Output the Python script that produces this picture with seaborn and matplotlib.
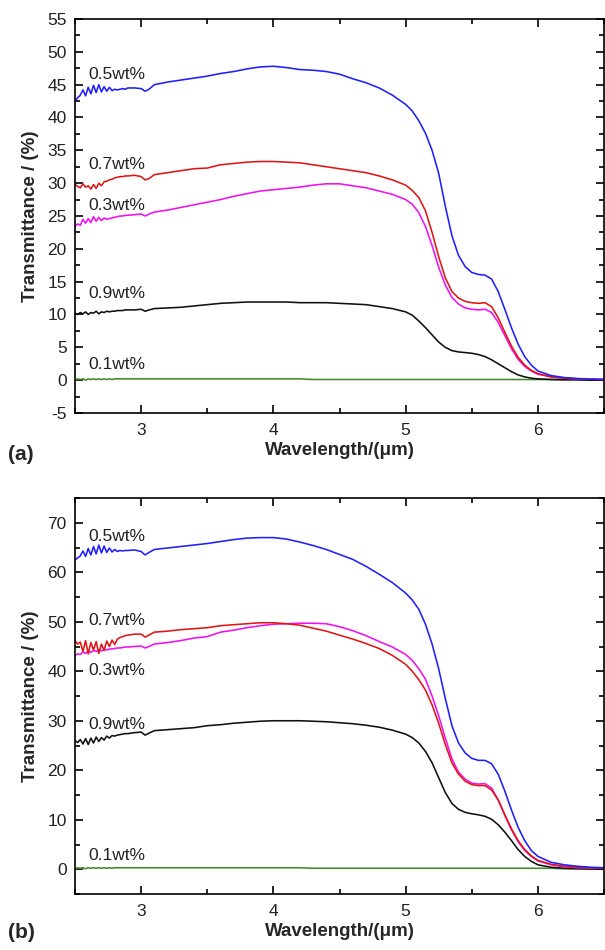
import matplotlib
matplotlib.use("Agg")
import matplotlib.pyplot as plt
from matplotlib.ticker import MultipleLocator
import seaborn as sns
import pandas as pd

# ---------------- data ----------------
wavelength = [2.50, 2.52, 2.54, 2.56, 2.58, 2.60, 2.62, 2.64, 2.66, 2.68, 2.70,
              2.72, 2.74, 2.76, 2.78, 2.80, 2.82, 2.84, 2.86, 2.88, 2.90,
              2.95, 3.00, 3.03, 3.06, 3.10,
              3.2, 3.3, 3.4, 3.5, 3.6, 3.7, 3.8, 3.9, 4.0, 4.1, 4.2, 4.3, 4.4,
              4.5, 4.6, 4.7, 4.8, 4.9,
              5.00, 5.05, 5.10, 5.15, 5.20, 5.25, 5.30, 5.35, 5.40, 5.45, 5.50,
              5.55, 5.60, 5.65, 5.70, 5.75, 5.80, 5.85, 5.90, 5.95, 6.00,
              6.1, 6.2, 6.3, 6.4, 6.5]

concentrations = ["0.1wt%", "0.9wt%", "0.3wt%", "0.7wt%", "0.5wt%"]

# panel (a)
a_05 = [42.5, 43.0, 43.4, 44.2, 43.3, 44.6, 43.6, 44.9, 43.8, 45.0, 43.9,
        44.7, 44.0, 44.6, 44.1, 44.3, 44.2, 44.3, 44.4, 44.3, 44.5,
        44.5, 44.4, 44.0, 44.3, 45.0,
        45.4, 45.7, 46.0, 46.3, 46.7, 47.0, 47.4, 47.7, 47.8, 47.6, 47.3, 47.2, 47.0,
        46.6, 45.9, 45.3, 44.5, 43.4,
        42.0, 41.0, 39.5, 37.6, 35.0, 31.5, 26.5, 22.0, 19.0, 17.3, 16.4,
        16.1, 16.0, 15.4, 13.5, 10.8, 8.0, 5.5, 3.6, 2.3, 1.4,
        0.7, 0.4, 0.25, 0.15, 0.1]
a_07 = [29.8, 29.5, 29.3, 29.9, 29.4, 29.6, 29.1, 29.8, 29.2, 30.0, 29.6,
        30.2, 30.3, 30.5, 30.6, 30.8, 30.9, 31.0, 31.0, 31.1, 31.1,
        31.2, 31.0, 30.5, 30.7, 31.3,
        31.6, 31.9, 32.2, 32.3, 32.8, 33.0, 33.2, 33.3, 33.3, 33.2, 33.1, 32.8, 32.5,
        32.2, 31.9, 31.6, 31.1, 30.5,
        29.7, 28.9, 27.8, 25.8, 22.5, 18.8, 15.6, 13.5, 12.5, 12.0, 11.8,
        11.7, 11.8, 11.2, 9.5, 7.3, 5.2, 3.5, 2.3, 1.5, 1.0,
        0.5, 0.3, 0.2, 0.15, 0.1]
a_03 = [23.4, 23.8, 23.6, 24.5, 23.9, 24.6, 24.0, 24.9, 24.2, 24.8, 24.3,
        24.7, 24.5, 24.6, 24.7, 24.8, 24.9, 25.0, 25.0, 25.1, 25.1,
        25.2, 25.3, 25.0, 25.3, 25.6,
        25.9, 26.3, 26.7, 27.1, 27.5, 28.0, 28.4, 28.8, 29.0, 29.2, 29.4, 29.7, 29.9,
        29.9, 29.6, 29.3, 28.8, 28.3,
        27.5, 26.8, 25.5, 23.4, 20.5, 17.2, 14.5, 12.6, 11.6, 11.0, 10.8,
        10.7, 10.8, 10.3, 8.8, 6.8, 4.8, 3.2, 2.1, 1.4, 0.9,
        0.5, 0.3, 0.2, 0.15, 0.1]
a_09 = [10.2, 10.0, 10.3, 10.1, 10.4, 10.0, 10.3, 10.2, 10.5, 10.1, 10.4,
        10.3, 10.5, 10.4, 10.5, 10.5, 10.6, 10.6, 10.6, 10.7, 10.7,
        10.7, 10.8, 10.5, 10.7, 10.9,
        11.0, 11.1, 11.3, 11.5, 11.7, 11.8, 11.9, 11.9, 11.9, 11.9, 11.8, 11.8, 11.8,
        11.7, 11.6, 11.5, 11.2, 10.9,
        10.4, 9.9, 9.0, 8.0, 6.9, 5.8, 5.0, 4.5, 4.3, 4.2, 4.1,
        3.9, 3.6, 3.1, 2.5, 1.9, 1.3, 0.8, 0.5, 0.3, 0.2,
        0.1, 0.05, 0.05, 0.0, 0.0]
a_01 = [0.0, 0.2, 0.1, 0.2, 0.0, 0.2, 0.1, 0.2, 0.1, 0.2, 0.1,
        0.2, 0.1, 0.2, 0.1, 0.2, 0.2, 0.2, 0.2, 0.2, 0.2,
        0.2, 0.2, 0.2, 0.2, 0.2,
        0.2, 0.2, 0.2, 0.2, 0.2, 0.2, 0.2, 0.2, 0.2, 0.2, 0.2, 0.1, 0.1,
        0.1, 0.1, 0.1, 0.1, 0.1,
        0.1, 0.1, 0.1, 0.1, 0.1, 0.1, 0.1, 0.1, 0.1, 0.1, 0.1,
        0.1, 0.1, 0.1, 0.1, 0.1, 0.1, 0.1, 0.1, 0.1, 0.1,
        0.1, 0.1, 0.1, 0.0, 0.0]

# panel (b)
b_05 = [62.5, 62.9, 63.3, 64.3, 63.2, 64.8, 63.5, 65.2, 63.7, 65.5, 63.9,
        65.3, 64.0, 64.9, 64.1, 64.6, 64.2, 64.4, 64.3, 64.4, 64.4,
        64.5, 64.2, 63.5, 64.0, 64.6,
        64.9, 65.2, 65.5, 65.8, 66.2, 66.6, 66.9, 67.0, 67.0, 66.7, 66.1, 65.4, 64.6,
        63.6, 62.6, 61.2, 59.6, 57.9,
        55.8, 54.4, 52.5, 49.5, 45.5, 40.5, 34.5, 29.0, 25.5, 23.5, 22.4,
        22.0, 22.0, 21.3, 19.2, 15.8, 12.0, 8.5, 5.8, 3.8, 2.6,
        1.4, 0.9, 0.6, 0.4, 0.3]
b_07 = [46.2, 45.5, 45.9, 44.0, 46.2, 43.5, 45.8, 44.3, 46.0, 43.6, 45.5,
        44.2, 46.1, 45.0, 46.3, 45.4, 46.5, 46.8, 47.0, 47.2, 47.3,
        47.5, 47.5, 46.9, 47.3, 47.9,
        48.1, 48.4, 48.6, 48.8, 49.2, 49.4, 49.6, 49.8, 49.8, 49.6, 49.3, 48.7, 48.1,
        47.3, 46.5, 45.6, 44.6, 43.2,
        41.4, 40.0, 38.3, 36.2, 33.2, 29.5, 25.2, 21.5, 19.2, 17.8, 17.1,
        16.9, 16.9, 16.0, 14.0, 11.0, 8.2, 5.8, 4.0, 2.7, 1.8,
        1.0, 0.6, 0.4, 0.3, 0.2]
b_03 = [43.2, 43.5, 43.4, 43.9, 43.6, 44.1, 43.8, 44.2, 44.0, 44.3, 44.1,
        44.4, 44.3, 44.5, 44.5, 44.6, 44.7, 44.7, 44.8, 44.9, 44.9,
        45.0, 45.1, 44.7, 45.0, 45.5,
        45.8, 46.2, 46.7, 47.0, 47.9, 48.3, 48.8, 49.2, 49.5, 49.6, 49.7, 49.7, 49.6,
        49.0, 48.2, 47.2, 46.0, 44.9,
        43.4, 42.2, 40.5, 38.4, 35.0, 31.0, 26.5, 22.3, 19.6, 18.2, 17.4,
        17.2, 17.3, 16.4, 14.0, 10.9, 8.0, 5.6, 3.8, 2.6, 1.7,
        0.9, 0.5, 0.3, 0.25, 0.2]
b_09 = [26.0, 25.6, 26.2, 25.3, 26.4, 25.2, 26.5, 25.5, 26.7, 25.8, 26.6,
        26.1, 26.9, 26.5, 27.0, 26.9, 27.1, 27.2, 27.3, 27.4, 27.4,
        27.6, 27.7, 27.1, 27.5, 28.0,
        28.2, 28.4, 28.6, 29.0, 29.2, 29.5, 29.7, 29.9, 30.0, 30.0, 30.0, 29.9, 29.8,
        29.6, 29.4, 29.1, 28.7, 28.1,
        27.3, 26.6, 25.5, 23.8, 21.5, 18.5, 15.5, 13.3, 12.1, 11.5, 11.2,
        11.0, 10.7, 10.1, 9.0, 7.5, 5.8, 4.0, 2.6, 1.6, 0.9,
        0.4, 0.2, 0.1, 0.05, 0.0]
b_01 = [0.1, 0.3, 0.2, 0.3, 0.1, 0.3, 0.2, 0.3, 0.2, 0.3, 0.2,
        0.3, 0.2, 0.3, 0.2, 0.3, 0.3, 0.3, 0.3, 0.3, 0.3,
        0.3, 0.3, 0.3, 0.3, 0.3,
        0.3, 0.3, 0.3, 0.3, 0.3, 0.3, 0.3, 0.3, 0.3, 0.3, 0.3, 0.2, 0.2,
        0.2, 0.2, 0.2, 0.2, 0.2,
        0.2, 0.2, 0.2, 0.2, 0.2, 0.2, 0.2, 0.2, 0.2, 0.2, 0.2,
        0.2, 0.2, 0.2, 0.2, 0.2, 0.2, 0.2, 0.2, 0.2, 0.2,
        0.2, 0.1, 0.1, 0.1, 0.1]

# label positions (x, y) for each panel
labels_a = {"0.5wt%": (2.6, 46.6), "0.7wt%": (2.6, 32.9), "0.3wt%": (2.6, 26.6),
            "0.9wt%": (2.6, 13.2), "0.1wt%": (2.6, 2.4)}
labels_b = {"0.5wt%": (2.6, 67.2), "0.7wt%": (2.6, 50.2), "0.3wt%": (2.6, 40.2),
            "0.9wt%": (2.6, 29.2), "0.1wt%": (2.6, 2.8)}

colors = {"0.5wt%": "#1f1fff", "0.7wt%": "#e01515", "0.3wt%": "#f010f0",
          "0.9wt%": "#101010", "0.1wt%": "#3f8a2a"}

# ---------------- styling ----------------
sns.set_theme(style="ticks")
plt.rcParams["font.family"] = ["Liberation Sans", "DejaVu Sans"]
plt.rcParams["axes.linewidth"] = 1.2
plt.rcParams["axes.unicode_minus"] = False

fig = plt.figure(figsize=(6.05, 9.5), dpi=100)
W, H = 605.0, 950.0
ax_a = fig.add_axes([75 / W, 1 - 413 / H, 529 / W, 394 / H])
ax_b = fig.add_axes([75 / W, 1 - 894 / H, 529 / W, 396 / H])


def make_df(series):
    rows = []
    for name, vals in series.items():
        for x, y in zip(wavelength, vals):
            rows.append({"wavelength": x, "T": y, "conc": name})
    return pd.DataFrame(rows)


df_a = make_df({"0.1wt%": a_01, "0.9wt%": a_09, "0.3wt%": a_03,
                "0.7wt%": a_07, "0.5wt%": a_05})
df_b = make_df({"0.1wt%": b_01, "0.9wt%": b_09, "0.3wt%": b_03,
                "0.7wt%": b_07, "0.5wt%": b_05})

for ax, df, labels, ylim, ymaj, tag, tag_y in [
        (ax_a, df_a, labels_a, (-5, 55), 5, "(a)", 454),
        (ax_b, df_b, labels_b, (-5, 75), 10, "(b)", 933)]:
    sns.lineplot(data=df, x="wavelength", y="T", hue="conc",
                 hue_order=concentrations, palette=colors, estimator=None,
                 sort=False, legend=False, linewidth=1.15, ax=ax)
    ax.set_xlim(2.5, 6.5)
    ax.set_ylim(*ylim)
    ax.xaxis.set_major_locator(MultipleLocator(1))
    ax.xaxis.set_minor_locator(MultipleLocator(0.5))
    ax.yaxis.set_major_locator(MultipleLocator(ymaj))
    ax.yaxis.set_minor_locator(MultipleLocator(ymaj / 2))
    ax.tick_params(which="both", direction="in", top=True, right=True,
                   labelsize=12.5, color="black", labelcolor="#222222")
    ax.tick_params(axis="x", which="both", pad=7)
    ax.tick_params(axis="y", which="both", pad=6)
    ax.tick_params(which="major", length=6, width=1.2)
    ax.tick_params(which="minor", length=3.5, width=1.2)
    for s in ax.spines.values():
        s.set_color("black")
        s.set_linewidth(1.2)
    ax.set_xlabel("Wavelength/(\u03bcm)", fontsize=13.5, fontweight="bold",
                  labelpad=3)
    ax.set_ylabel("Transmittance / (%)", fontsize=13.5, fontweight="bold",
                  labelpad=6)
    for name, (lx, ly) in labels.items():
        ax.text(lx, ly, name, fontsize=12.5, ha="left", va="center",
                color="#222222")
    fig.text(8 / W, 1 - tag_y / H, tag, fontsize=15, fontweight="bold",
             ha="left", va="center")

fig.savefig("out.png", dpi=100)
